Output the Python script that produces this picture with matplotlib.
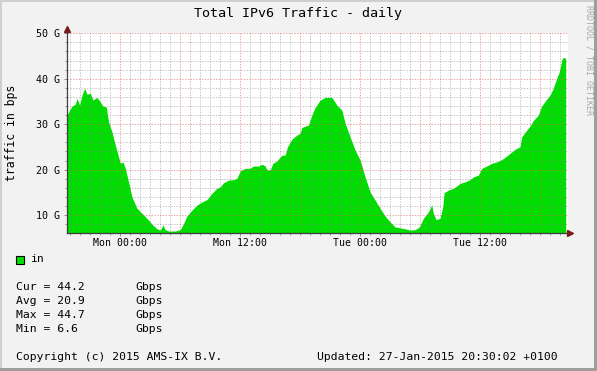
import matplotlib
matplotlib.use("Agg")
import matplotlib.pyplot as plt
from matplotlib.patches import Rectangle
from matplotlib.lines import Line2D

# ---------------- data (hours relative to Mon 00:00, Gbps) ----------------
hours = [-5.33, -4.83, -4.5, -4.33, -4.07, -3.83, -3.57, -3.33, -3.0, -2.73,
         -2.33, -2.0, -1.73, -1.4, -1.17, -0.83, -0.5, -0.17, 0.0, 0.27,
         0.5, 0.83, 1.17, 1.67, 2.17, 2.67, 3.17, 3.67, 4.0, 4.27,
         4.5, 4.83, 5.5, 6.0, 6.33, 6.67, 7.17, 7.67, 8.17, 8.67,
         9.17, 9.67, 10.0, 10.33, 10.83, 11.33, 11.67, 12.0, 12.5, 13.0,
         13.33, 13.83, 14.17, 14.5, 14.67, 15.0, 15.27, 15.67, 16.17, 16.5,
         16.73, 17.17, 17.67, 18.0, 18.17, 18.83, 19.17, 19.5, 20.0, 20.5,
         20.83, 21.17, 21.67, 22.17, 22.5, 23.0, 23.5, 24.0, 24.5, 25.0,
         25.5, 26.0, 26.5, 27.0, 27.5, 28.0, 28.5, 29.0, 29.5, 29.93,
         30.33, 30.83, 31.17, 31.33, 31.6, 32.0, 32.27, 32.4, 32.83, 33.33,
         33.67, 34.0, 34.5, 35.0, 35.33, 35.83, 36.17, 36.67, 37.17, 37.67,
         38.17, 38.67, 39.17, 39.67, 40.0, 40.17, 40.67, 41.0, 41.33, 41.83,
         42.17, 42.67, 43.0, 43.33, 43.67, 43.93, 44.17, 44.33, 44.57]
traffic_gbps = [32.0, 34.0, 34.4, 35.7, 34.2, 36.4, 37.9, 36.6, 36.8, 35.3,
                35.9, 34.9, 34.0, 33.8, 30.5, 28.3, 25.4, 22.8, 21.4, 21.7,
                20.3, 17.3, 14.0, 11.5, 10.4, 9.3, 8.0, 7.0, 6.7, 7.8,
                6.8, 6.5, 6.5, 6.8, 8.1, 9.8, 11.1, 12.2, 12.9, 13.4,
                14.8, 15.9, 16.2, 17.1, 17.7, 17.8, 18.1, 19.7, 20.3, 20.3,
                20.8, 20.8, 21.2, 20.8, 20.0, 19.9, 21.4, 21.9, 23.2, 23.2,
                25.0, 26.7, 27.6, 28.0, 29.3, 29.8, 32.0, 33.7, 35.3, 35.9,
                35.9, 35.9, 34.2, 33.1, 30.2, 27.2, 24.3, 22.1, 18.4, 15.1,
                13.3, 11.5, 9.8, 8.5, 7.4, 7.2, 7.0, 6.7, 6.8, 7.4,
                9.3, 10.7, 12.2, 10.4, 9.0, 9.3, 11.8, 14.9, 15.5, 15.9,
                16.4, 17.0, 17.3, 17.8, 18.4, 18.8, 20.3, 20.8, 21.4, 21.7,
                22.2, 23.0, 23.9, 24.7, 25.0, 27.2, 28.7, 29.6, 30.8, 32.0,
                34.0, 35.5, 36.4, 37.9, 40.1, 41.5, 44.1, 44.7, 44.5]

xtick_hours = [0, 12, 24, 36]
xtick_labels = ["Mon 00:00", "Mon 12:00", "Tue 00:00", "Tue 12:00"]
ytick_values = [10, 20, 30, 40, 50]
ytick_labels = ["10 G", "20 G", "30 G", "40 G", "50 G"]

title = "Total IPv6 Traffic - daily"
ylabel = "traffic in bps"
legend_name = "in"
stat_names = ["Cur", "Avg", "Max", "Min"]
stat_values = ["44.2", "20.9", "44.7", "6.6"]
stat_unit = "Gbps"
footer_left = "Copyright (c) 2015 AMS-IX B.V."
footer_right = "Updated: 27-Jan-2015 20:30:02 +0100"
watermark = "RRDTOOL / TOBI OETIKER"

# ---------------- styling ----------------
MONO = "DejaVu Sans Mono"
GREEN = "#00DD00"
BACK = "#F2F2F2"
W, H = 597, 371

fig = plt.figure(figsize=(W / 100, H / 100), dpi=100, facecolor=BACK)

def fx(px):
    return px / W

def fy(py):
    return 1 - py / H

# frame shading like rrdtool
fig.add_artist(Rectangle((0, 0), fx(2), 1, transform=fig.transFigure,
                         color="#CFCFCF", lw=0))
fig.add_artist(Rectangle((0, fy(2)), 1, fx(2) * W / H, transform=fig.transFigure,
                         color="#CFCFCF", lw=0))
fig.add_artist(Rectangle((fx(W - 3), 0), fx(3), 1, transform=fig.transFigure,
                         color="#9E9E9E", lw=0))
fig.add_artist(Rectangle((0, 0), 1, 3 / H, transform=fig.transFigure,
                         color="#9E9E9E", lw=0))

left_px, right_px, top_px, bot_px = 67, 568.3, 33.3, 233.3
ax = fig.add_axes([fx(left_px), fy(bot_px), (right_px - left_px) / W,
                   (bot_px - top_px) / H])
ax.set_facecolor("white")

x0, x1 = -5.33, 44.83
y0, y1 = 6, 50
ax.set_xlim(x0, x1)
ax.set_ylim(y0, y1)

ax.fill_between(hours, y0, traffic_gbps, color=GREEN, lw=0, zorder=1)

# grid drawn over the data, dotted
dots = (0, (1.4, 1.4))
for h in range(-5, 45):
    if h % 6 == 0:
        ax.axvline(h, color="#E06060", alpha=0.55, lw=0.72, ls=dots, zorder=2)
    else:
        ax.axvline(h, color="#808080", alpha=0.45, lw=0.72, ls=dots, zorder=2)
for v in range(8, 51, 2):
    if v % 10 == 0:
        ax.axhline(v, color="#E06060", alpha=0.55, lw=0.72, ls=dots, zorder=2)
    else:
        ax.axhline(v, color="#808080", alpha=0.45, lw=0.72, ls=dots, zorder=2)

for s in ["top", "right"]:
    ax.spines[s].set_visible(False)
for s in ["left", "bottom"]:
    ax.spines[s].set_color("#404040")
    ax.spines[s].set_linewidth(0.9)
    ax.spines[s].set_zorder(4)

ax.set_xticks(xtick_hours)
ax.set_xticklabels(xtick_labels, family=MONO, fontsize=7.1)
ax.set_xticks(list(range(-5, 45)), minor=True)
ax.set_yticks(ytick_values)
ax.set_yticklabels(ytick_labels, family=MONO, fontsize=7.2)
ax.set_yticks(list(range(8, 51, 2)), minor=True)
ax.tick_params(which="both", direction="out", color="#909090", width=0.7)
ax.tick_params(which="major", length=2.2)
ax.tick_params(which="minor", length=1.5)
ax.tick_params(axis="x", which="major", pad=1.2)
ax.tick_params(axis="y", which="major", pad=3.2)

# axis arrows
ax.plot([1.0035], [0], marker=">", color="#7A1A1A", markersize=4.5,
        transform=ax.transAxes, clip_on=False, zorder=5)
ax.plot([0], [1.022], marker="^", color="#7A1A1A", markersize=4.5,
        transform=ax.transAxes, clip_on=False, zorder=5)

# texts
fig.text(fx(298), fy(13.5), title, family=MONO, fontsize=9.6,
         ha="center", va="center")
fig.text(fx(12), fy(133), ylabel, family=MONO, fontsize=8.3, rotation=90,
         ha="center", va="center")
fig.text(fx(589), fy(60), watermark, family=MONO, fontsize=6.0, rotation=270,
         ha="center", va="center", color="#A8A8A8")

# legend
fig.add_artist(Rectangle((fx(15.5), fy(263.5)), 8 / W, 8 / H,
                         transform=fig.transFigure, facecolor=GREEN,
                         edgecolor="black", lw=0.8))
fig.text(fx(30), fy(259.5), legend_name, family=MONO, fontsize=8.2,
         ha="left", va="center")
for i, (n, v) in enumerate(zip(stat_names, stat_values)):
    y = 287.5 + 14 * i
    fig.text(fx(16.4), fy(y), f"{n} = {v}", family=MONO, fontsize=8.2,
             ha="left", va="center")
    fig.text(fx(135), fy(y), stat_unit, family=MONO, fontsize=8.2,
             ha="left", va="center")
fig.text(fx(16.4), fy(357.5), footer_left, family=MONO, fontsize=8.2,
         ha="left", va="center")
fig.text(fx(317), fy(357.5), footer_right, family=MONO, fontsize=8.2,
         ha="left", va="center")

fig.savefig("out.png", dpi=100, facecolor=BACK)
